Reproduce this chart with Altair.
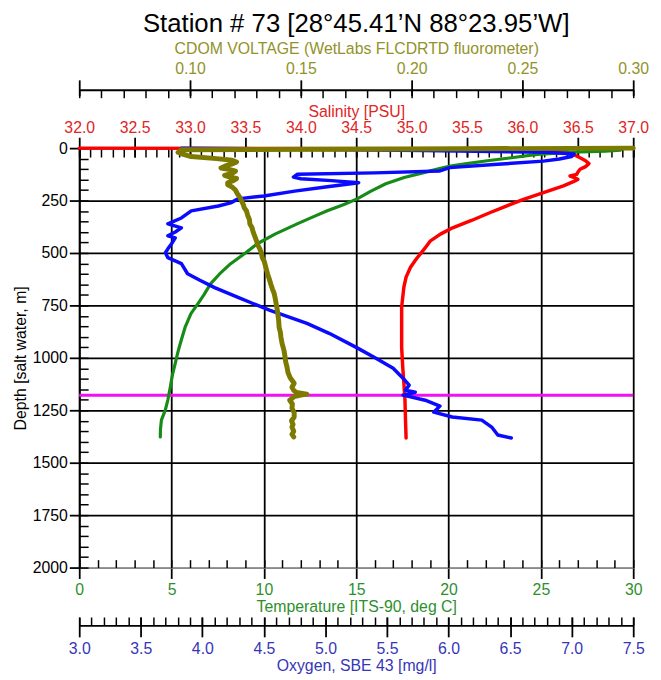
import altair as alt
import pandas as pd

FONT = "Liberation Sans"

# ---------------- data ----------------
# Salinity [PSU] (red)
sal_depth = [0, 3, 10, 20, 35, 46, 60, 74, 88, 101, 115, 125, 133, 141, 149, 160, 180, 212, 244,
             275, 307, 345, 380, 410, 442, 470, 497, 530, 568, 615, 663, 758, 869, 950, 1045,
             1120, 1202, 1300, 1382]
sal_val = [32.0, 36.2, 36.3, 36.42, 36.48, 36.52, 36.57, 36.6, 36.57, 36.52, 36.5, 36.49, 36.43,
           36.47, 36.5, 36.46, 36.37, 36.19, 36.01, 35.86, 35.71, 35.54, 35.37, 35.26, 35.17,
           35.13, 35.09, 35.04, 34.99, 34.95, 34.93, 34.91, 34.91, 34.91, 34.92, 34.93, 34.94,
           34.945, 34.95]

# Temperature [deg C] (green)
tmp_depth = [3, 10, 14, 19, 30, 47, 60, 75, 86, 100, 118, 140, 170, 205, 242, 270, 300, 330, 361,
             410, 456, 500, 551, 600, 646, 700, 741, 789, 855, 917, 970, 1026, 1080, 1140, 1200,
             1249, 1297, 1340, 1377]
tmp_val = [29.2, 29.3, 28.5, 26.7, 24.8, 23.3, 22.1, 20.9, 20.1, 19.4, 18.6, 17.6, 16.6, 15.8,
           15.05, 14.3, 13.4, 12.6, 11.8, 10.6, 9.64, 9.0, 8.2, 7.6, 7.12, 6.75, 6.43, 6.05, 5.73,
           5.52, 5.35, 5.2, 5.05, 4.93, 4.8, 4.66, 4.45, 4.4, 4.39]

# Oxygen [mg/l] (blue)
ox_depth = [0, 4, 12, 20, 28, 40, 52, 62, 77, 93, 109, 118, 125, 138, 146, 155, 165, 185, 205,
            228, 242, 261, 276, 299, 333, 361, 380, 400, 418, 428, 456, 480, 499, 522, 551, 599,
            630, 665, 712, 774, 836, 883, 950, 1002, 1050, 1097, 1130, 1154, 1164, 1178, 1202,
            1230, 1259, 1282, 1297, 1330, 1368, 1382]
ox_val = [3.83, 4.6, 5.8, 6.8, 7.02, 7.0, 6.9, 6.77, 6.4, 6.01, 5.93, 5.4, 4.77, 4.74, 4.8, 5.05,
          5.27, 5.0, 4.75, 4.5, 4.29, 4.23, 4.13, 3.91, 3.83, 3.72, 3.83, 3.78, 3.72, 3.78, 3.75,
          3.72, 3.70, 3.72, 3.83, 3.88, 3.98, 4.10, 4.29, 4.55, 4.85, 5.03, 5.25, 5.41, 5.55,
          5.63, 5.68, 5.65, 5.73, 5.63, 5.81, 5.93, 5.88, 6.03, 6.27, 6.35, 6.40, 6.51]

# CDOM voltage (olive)
cdom_depth = [0, 4, 8, 20, 30, 40, 50, 58, 66, 75, 85, 95, 102, 110, 120, 130, 138, 145, 155,
              165, 175, 185, 200, 218, 235, 250, 268, 285, 300, 320, 340, 361, 380, 400, 420,
              442, 460, 480, 500, 522, 540, 560, 580, 600, 625, 650, 672, 694, 720, 750, 780,
              822, 855, 880, 900, 930, 964, 990, 1020, 1045, 1070, 1095, 1121, 1140, 1155, 1165,
              1173, 1178, 1185, 1202, 1220, 1240, 1262, 1282, 1300, 1318, 1330, 1350, 1365, 1377]
cdom_val = [0.300, 0.200, 0.096, 0.0946, 0.097, 0.1005, 0.112, 0.119, 0.121, 0.119, 0.116, 0.114,
            0.118, 0.1205, 0.119, 0.1156, 0.118, 0.121, 0.1195, 0.117, 0.117, 0.119, 0.1205,
            0.1214, 0.1225, 0.1232, 0.124, 0.1245, 0.1255, 0.126, 0.1268, 0.127, 0.128, 0.1285,
            0.1292, 0.130, 0.1305, 0.1315, 0.1322, 0.1326, 0.1335, 0.134, 0.1345, 0.135, 0.1358,
            0.1365, 0.1372, 0.138, 0.1385, 0.139, 0.1395, 0.140, 0.1402, 0.1408, 0.141, 0.1415,
            0.1424, 0.1428, 0.1432, 0.1438, 0.1442, 0.1452, 0.147, 0.146, 0.1468, 0.148, 0.1527,
            0.150, 0.147, 0.145, 0.1462, 0.146, 0.147, 0.147, 0.1458, 0.1465, 0.146, 0.1468,
            0.146, 0.1468]

# marker line depth (magenta)
marker_depth = [1178]

# axis ranges and tick values
depth_range = [0, 2000]
depth_major = [0, 250, 500, 750, 1000, 1250, 1500, 1750, 2000]
depth_minor = list(range(0, 2001, 50))
temp_range = [0, 30]
temp_major = [0, 5, 10, 15, 20, 25, 30]
temp_minor = list(range(0, 31))
sal_range = [32.0, 37.0]
sal_major = [32.0, 32.5, 33.0, 33.5, 34.0, 34.5, 35.0, 35.5, 36.0, 36.5, 37.0]
sal_minor = [round(32 + 0.1 * i, 1) for i in range(51)]
ox_range = [3.0, 7.5]
ox_major = [3.0, 3.5, 4.0, 4.5, 5.0, 5.5, 6.0, 6.5, 7.0, 7.5]
ox_minor = [round(3 + 0.1 * i, 1) for i in range(46)]
cdom_range = [0.05, 0.30]
cdom_major = [0.05, 0.10, 0.15, 0.20, 0.25, 0.30]
cdom_minor = [round(0.05 + 0.01 * i, 2) for i in range(26)]

TITLE = "Station # 73 [28°45.41’N 88°23.95’W]"

C_SAL, C_TMP, C_OX, C_CDOM, C_MAG = "#ff0000", "#168c16", "#0a0aff", "#7d7a00", "#f010f0"
L_SAL, L_TMP, L_OX, L_CDOM = "#e02525", "#2e8f2e", "#3535b8", "#92922a"

YSCALE = alt.Scale(domain=depth_range, reverse=True, nice=False, zero=False)


def xs(rng):
    return alt.Scale(domain=rng, nice=False, zero=False)


def ax(**kw):
    base = dict(labelFont=FONT, labelFontSize=16, titleFont=FONT, titleFontSize=16,
                titleFontWeight="normal", tickColor="black", domainColor="black",
                tickWidth=1.8, domainWidth=1.8, labelFlush=False, labelOverlap=False,
                grid=False)
    base.update(kw)
    return alt.Axis(**base)


def x_axis_layer(rng, axis, title=None):
    df = pd.DataFrame({"v": rng, "d": [0, 0]})
    return alt.Chart(df).mark_point(opacity=0).encode(
        x=alt.X("v:Q", scale=xs(rng), axis=axis, title=title),
        y=alt.Y("d:Q", scale=YSCALE, axis=None),
    )


def y_axis_layer(axis, title=None):
    df = pd.DataFrame({"d": depth_range})
    return alt.Chart(df).mark_point(opacity=0).encode(
        y=alt.Y("d:Q", scale=YSCALE, axis=axis, title=title)
    )


def series(depth, vals, rng, color, width):
    df = pd.DataFrame({"d": depth, "v": vals, "o": list(range(len(depth)))})
    return alt.Chart(df).mark_line(color=color, strokeWidth=width, strokeJoin="round",
                                   strokeCap="round").encode(
        x=alt.X("v:Q", scale=xs(rng), axis=None),
        y=alt.Y("d:Q", scale=YSCALE, axis=None),
        order="o:Q",
    )


layers = [
    # depth axis (left)
    y_axis_layer(ax(orient="left", values=depth_major, format="d", tickSize=10, labelPadding=2,
                    grid=True,
                    gridColor={"condition": {"test": "datum.value === 2000", "value": "#8a8a8a"},
                               "value": "black"},
                    gridWidth=1.8, gridOpacity=1,
                    labelColor="black", titleColor="black", titleX=-54,
                    titleBaseline="alphabetic"),
                 title="Depth [salt water, m]"),
    y_axis_layer(ax(orient="left", offset=-9, values=depth_minor, tickSize=9, labels=False,
                    domain=False, tickWidth=1.5)),
    # temperature (bottom)
    x_axis_layer(temp_range, ax(orient="bottom", values=temp_major, format="d", tickSize=11,
                                labelPadding=3, grid=True, gridColor="black", gridWidth=1.8,
                                gridOpacity=1, labelColor=L_TMP, titleColor=L_TMP,
                                domainColor="#8a8a8a", domainWidth=1.2,
                                titleY=44, titleBaseline="alphabetic"),
                 title="Temperature [ITS-90, deg C]"),
    x_axis_layer(temp_range, ax(orient="bottom", offset=-8, values=temp_minor, tickSize=8,
                                labels=False, domain=False, tickWidth=1.5)),
    # salinity (top)
    x_axis_layer(sal_range, ax(orient="top", offset=-9, values=sal_major, format=".1f",
                               tickSize=20, labelPadding=2, domain=False, labelColor=L_SAL,
                               titleColor=L_SAL, titleY=-41, titleBaseline="alphabetic"),
                 title="Salinity [PSU]"),
    x_axis_layer(sal_range, ax(orient="top", offset=-9, values=sal_minor, tickSize=8,
                               labels=False, domain=False, tickWidth=1.5)),
    # CDOM (top, outer)
    x_axis_layer(cdom_range, ax(orient="top", offset=53, values=cdom_major, tickSize=16,
                                labelPadding=3, domain=False, labelColor=L_CDOM,
                                titleColor=L_CDOM, titleY=-43, titleBaseline="alphabetic",
                                labelExpr="datum.value < 0.075 ? '' : format(datum.value, '.2f')"),
                 title="CDOM VOLTAGE (WetLabs FLCDRTD fluorometer)"),
    x_axis_layer(cdom_range, ax(orient="top", offset=51, values=cdom_minor, tickSize=8,
                                labels=False, domain=False, tickWidth=1.5)),
    x_axis_layer(cdom_range, ax(orient="top", offset=59, values=cdom_major, ticks=False,
                                labels=False, domain=True)),
    # oxygen (bottom, outer)
    x_axis_layer(ox_range, ax(orient="bottom", offset=50, values=ox_major, format=".1f",
                              tickSize=20, labelPadding=4, domain=False, labelColor=L_OX,
                              titleColor=L_OX, titleY=54, titleBaseline="alphabetic"),
                 title="Oxygen, SBE 43 [mg/l]"),
    x_axis_layer(ox_range, ax(orient="bottom", offset=50, values=ox_minor, tickSize=8,
                              labels=False, domain=False, tickWidth=1.5)),
    x_axis_layer(ox_range, ax(orient="bottom", offset=58.5, values=ox_major, ticks=False,
                              labels=False, domain=True)),
    # marker line
    alt.Chart(pd.DataFrame({"d": marker_depth})).mark_rule(color=C_MAG, strokeWidth=3).encode(
        y=alt.Y("d:Q", scale=YSCALE, axis=None)
    ),
    # data series
    series(sal_depth, sal_val, sal_range, C_SAL, 3.5),
    series(tmp_depth, tmp_val, temp_range, C_TMP, 3.2),
    series(ox_depth, ox_val, ox_range, C_OX, 3.5),
    series(cdom_depth, cdom_val, cdom_range, C_CDOM, 5),
]

chart = (
    alt.layer(*layers)
    .resolve_scale(x="independent")
    .resolve_axis(x="independent", y="independent")
    .properties(
        width=560,
        height=424,
        autosize=alt.AutoSizeParams(type="none"),
        padding={"left": 72, "top": 138, "right": 20, "bottom": 110},
        background="white",
        title=alt.TitleParams(text=TITLE, font=FONT, fontSize=26, fontWeight="normal",
                              color="black", anchor="middle", frame="group", offset=9,
                              dy=27, baseline="alphabetic"),
    )
    .configure_view(stroke=None)
)

chart.save("out.html", embed_options={"renderer": "svg", "actions": False})
